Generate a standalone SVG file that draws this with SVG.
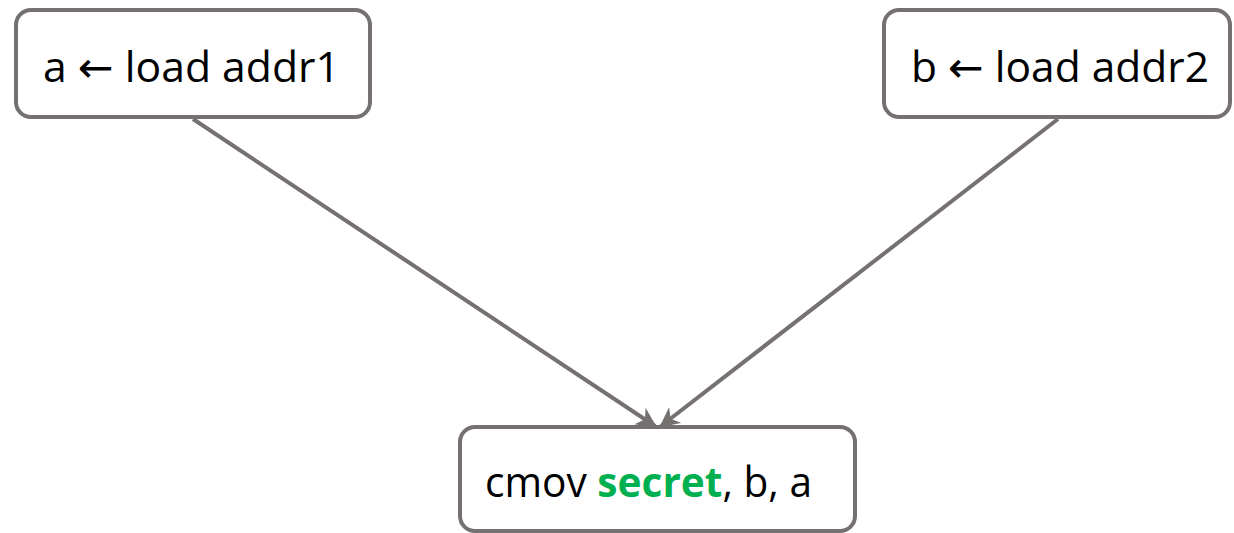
<svg xmlns="http://www.w3.org/2000/svg" width="1234" height="533" viewBox="0 0 1234 533">
  <style>
    .box { fill: #ffffff; stroke: #767171; stroke-width: 4; }
    .lbl { font-family: "Open Sans", "Noto Sans", "Liberation Sans", sans-serif; font-size: 42px; fill: #000000; }
    .arr { font-family: "DejaVu Sans", sans-serif; }
    .hl { fill: #00b050; font-weight: bold; }
    .edge { stroke: #767171; stroke-width: 4; fill: none; }
  </style>
  <defs>
    <marker id="arrow" viewBox="0 0 10 10" refX="9" refY="5" markerWidth="5" markerHeight="5" orient="auto" markerUnits="strokeWidth">
      <path d="M0,0 L10,5 L0,10 L3,5 Z" fill="#767171"/>
    </marker>
  </defs>

  <g id="edges">
    <line class="edge" x1="193" y1="119" x2="655" y2="426" marker-end="url(#arrow)"/>
    <line class="edge" x1="1058" y1="119" x2="661" y2="426" marker-end="url(#arrow)"/>
  </g>

  <g id="load-a">
    <rect class="box" x="16" y="10" width="354" height="107" rx="15" ry="15"/>
    <text class="lbl" x="43" y="82" textLength="297" lengthAdjust="spacingAndGlyphs">a <tspan class="arr">←</tspan> load addr1</text>
  </g>

  <g id="load-b">
    <rect class="box" x="884" y="10" width="346" height="107" rx="15" ry="15"/>
    <text class="lbl" x="911" y="82" textLength="298" lengthAdjust="spacingAndGlyphs">b <tspan class="arr">←</tspan> load addr2</text>
  </g>

  <g id="cmov">
    <rect class="box" x="460" y="427" width="395" height="104" rx="15" ry="15"/>
    <text class="lbl" x="485" y="497" textLength="327" lengthAdjust="spacingAndGlyphs">cmov <tspan class="hl">secret</tspan>, b, a</text>
  </g>
</svg>
